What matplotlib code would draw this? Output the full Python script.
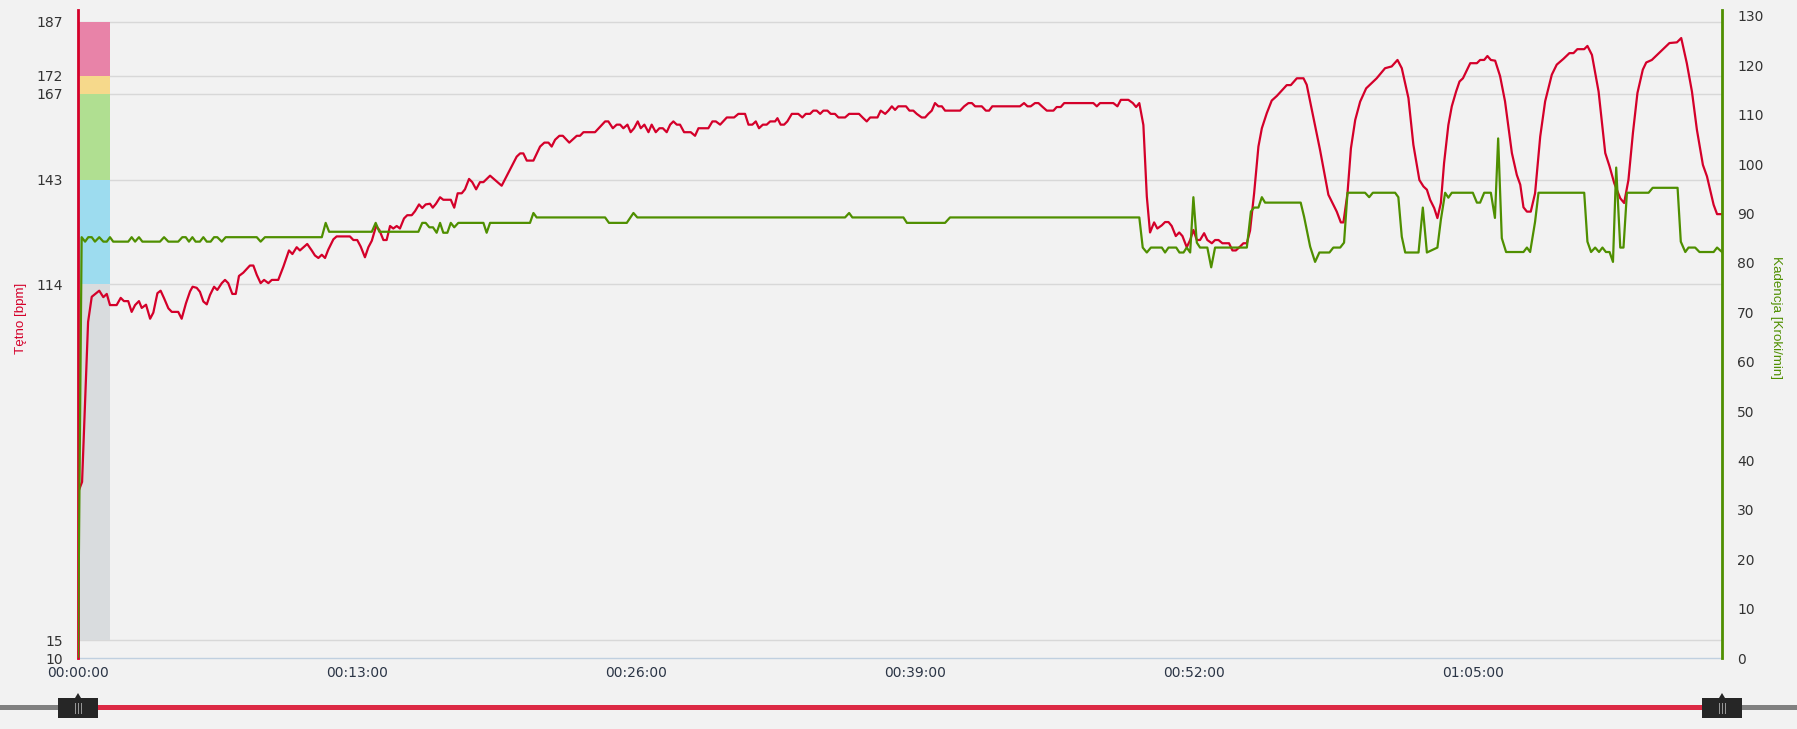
import matplotlib
matplotlib.use('Agg')
import matplotlib.pyplot as plt
from matplotlib.patches import Rectangle, Polygon

# Tętno (minuty, bpm)
hr_czas = [0.00, 0.19, 0.47, 0.64, 0.99, 1.18, 1.34, 1.49, 1.80, 1.99, 2.14, 2.34, 2.50, 2.66, 2.84, 2.97,
           3.17, 3.36, 3.51, 3.70, 3.85, 4.01, 4.21, 4.37, 4.67, 4.83, 5.03, 5.22, 5.34, 5.53, 5.68, 5.84,
           6.00, 6.15, 6.34, 6.49, 6.70, 6.85, 7.00, 7.19, 7.35, 7.50, 7.70, 8.01, 8.17, 8.33, 8.51, 8.67,
           8.87, 9.03, 9.33, 9.57, 9.83, 9.99, 10.19, 10.34, 10.68, 10.89, 11.04, 11.20, 11.36, 11.51, 11.66,
           11.90, 12.05, 12.67, 12.83, 13.01, 13.17, 13.37, 13.53, 13.69, 13.89, 14.04, 14.23, 14.38, 14.54,
           14.69, 14.85, 15.00, 15.19, 15.34, 15.55, 15.70, 15.89, 16.04, 16.20, 16.40, 16.53, 16.68, 16.87,
           17.02, 17.37, 17.53, 17.69, 17.88, 18.03, 18.22, 18.37, 18.55, 18.73, 18.89, 19.20, 19.74, 20.44,
           20.60, 20.75, 20.91, 21.22, 21.53, 21.73, 21.92, 22.07, 22.23, 22.43, 22.59, 22.89, 23.24, 23.39,
           23.55, 24.09, 24.56, 24.71, 24.92, 25.10, 25.26, 25.41, 25.60, 25.75, 25.91, 26.08, 26.22, 26.39,
           26.58, 26.73, 26.92, 27.09, 27.25, 27.43, 27.59, 27.74, 27.90, 28.05, 28.24, 28.55, 28.75, 28.91,
           29.37, 29.56, 29.72, 29.92, 30.23, 30.57, 30.77, 31.08, 31.24, 31.42, 31.58, 31.73, 31.91, 32.09,
           32.25, 32.48, 32.59, 32.74, 32.90, 33.05, 33.26, 33.56, 33.75, 33.91, 34.11, 34.26, 34.42, 34.58,
           34.73, 34.92, 35.07, 35.27, 35.43, 35.74, 35.93, 36.39, 36.59, 36.75, 36.91, 37.25, 37.40, 37.61,
           37.76, 37.92, 38.07, 38.22, 38.58, 38.74, 38.92, 39.08, 39.31, 39.47, 39.62, 39.78, 39.93, 40.09,
           40.25, 40.40, 41.10, 41.29, 41.49, 41.65, 41.80, 42.11, 42.30, 42.45, 42.60, 43.89, 44.08, 44.24,
           44.39, 44.59, 44.75, 44.95, 45.14, 45.45, 45.60, 45.79, 45.95, 47.31, 47.47, 47.62, 48.24, 48.43,
           48.59, 48.94, 49.15, 49.30, 49.45, 49.64, 49.80, 49.95, 50.14, 50.29, 50.50, 50.65, 50.81, 50.96,
           51.15, 51.31, 51.46, 51.66, 51.82, 51.97, 52.13, 52.28, 52.47, 52.62, 52.83, 52.98, 53.14, 53.32,
           53.63, 53.79, 53.95, 54.15, 54.30, 54.46, 54.61, 54.80, 55.00, 55.16, 55.39, 55.62, 55.86, 56.32,
           56.51, 56.79, 57.10, 57.25, 57.49, 57.87, 58.26, 58.65, 58.84, 58.96, 59.15, 59.31, 59.51, 59.74,
           60.02, 60.51, 60.90, 61.21, 61.48, 61.68, 61.99, 62.22, 62.50, 62.69, 62.85, 63.00, 63.19, 63.34,
           63.50, 63.65, 63.85, 64.01, 64.21, 64.37, 64.53, 64.87, 65.18, 65.33, 65.52, 65.67, 65.83, 66.03,
           66.26, 66.49, 66.81, 67.04, 67.20, 67.35, 67.51, 67.69, 67.89, 68.13, 68.36, 68.67, 68.90, 69.21,
           69.49, 69.68, 69.86, 70.18, 70.33, 70.54, 70.85, 71.16, 71.36, 71.58, 71.86, 72.04, 72.24, 72.45,
           72.66, 72.91, 73.07, 73.33, 74.15, 74.50, 74.70, 74.96, 75.20, 75.43, 75.71, 75.90, 76.21, 76.37,
           76.60]
hr_bpm = [56, 59, 103.5, 110.5, 112.2, 110.4, 111.3, 108.2, 108.2, 110.2, 109.3, 109.3, 106.3, 108.2, 109.3, 107.4,
          108.3, 104.4, 106.1, 111.5, 112.2, 110.1, 107.3, 106.3, 106.3, 104.4, 108.7, 112, 113.3, 113, 111.9, 109.2,
          108.4, 111, 113.3, 112.4, 114.3, 115.2, 114.3, 111.3, 111.3, 116.3, 117.2, 119.2, 119.2, 116.6, 114.3, 115.2,
          114.3, 115.2, 115.2, 118.9, 123.4, 122.4, 124.3, 123.4, 125.2, 123.4, 122, 121.3, 122.2, 121.3, 123.6,
          126.5, 127.3, 127.3, 126.3, 126.3, 124.5, 121.5, 124.3, 126.1, 130.2, 129.1, 126.3, 126.3, 130.2,
          129.5, 130.2, 129.5, 132.3, 133.2, 133.2, 134.3, 136.2, 135.2, 136.2, 136.4, 135.3, 136.4, 138.2,
          137.5, 137.5, 135.3, 139.3, 139.3, 140.4, 143.3, 142.4, 140.4, 142.4, 142.4, 144.2, 141.4, 149.5,
          150.4, 150.4, 148.4, 148.4, 152.3, 153.4, 153.4, 152.3, 154.2, 155.3, 155.3, 153.4, 155.3, 155.3,
          156.3, 156.3, 159.3, 159.3, 157.4, 158.4, 158.4, 157.4, 158.4, 156.3, 157.4, 159.3, 157.4, 158.4,
          156.3, 158.4, 156.3, 157.4, 157.4, 156.3, 158.4, 159.3, 158.4, 158.4, 156.3, 156.3, 155.3, 157.4,
          157.4, 159.3, 159.3, 158.4, 160.4, 160.4, 161.4, 161.4, 158.4, 158.4, 159.3, 157.4, 158.4, 158.4,
          159.3, 159.3, 160.2, 158.4, 158.4, 159.3, 161.4, 161.4, 160.4, 161.4, 161.4, 162.3, 162.3, 161.4,
          162.3, 162.3, 161.4, 161.4, 160.4, 160.4, 161.4, 161.4, 160.2, 159.3, 160.4, 160.4, 162.3, 161.4,
          162.3, 163.5, 162.5, 163.5, 163.5, 162.3, 162.3, 161.4, 160.4, 160.4, 161.4, 162.3, 164.4, 163.5,
          163.5, 162.3, 162.3, 163.5, 164.4, 164.4, 163.5, 163.5, 162.3, 162.3, 163.5, 163.5, 164.4, 163.5,
          163.5, 164.4, 164.4, 163.3, 162.3, 162.3, 163.3, 163.3, 164.4, 164.4, 163.5, 164.4, 164.4, 163.5,
          165.3, 165.3, 164.4, 163.3, 164.4, 158.3, 138.4, 128.4, 131.2, 129.5, 130.4, 131.3, 131.3, 130.2,
          127.4, 128.4, 127.4, 124.3, 126.3, 129.1, 126.3, 126.3, 128.2, 126.3, 125.4, 126.3, 126.3, 125.4,
          125.4, 123.4, 123.4, 124.5, 125.4, 125.4, 128.9, 139.3, 152.3, 157.4, 161.6, 165.1, 166.4, 169.4,
          169.4, 171.3, 171.3, 169.5, 162.5, 151.4, 138.9, 134.2, 131.2, 131.2, 139.3, 151.8, 159.7, 164.8,
          168.5, 171.3, 174.1, 174.6, 176.4, 174.1, 165.8, 152.8, 143.0, 141.2, 140.3, 137.5, 135.2, 132.4,
          136.6, 147.7, 158.3, 163.5, 167.6, 170.4, 171.3, 175.5, 175.5, 176.4, 176.4, 177.5, 176.4, 176.2,
          171.9, 164.9, 150.5, 144.4, 141.7, 135.4, 134.2, 134.2, 139.3, 155.1, 164.9, 172.3, 175.1, 176.7,
          178.3, 178.3, 179.4, 179.4, 180.3, 177.8, 167.6, 150.5, 146.8, 142.1, 137.9, 136.6, 143.0, 156.1,
          167.2, 173.7, 175.7, 176.4, 181.1, 181.3, 182.5, 175.5, 167.6, 157.0, 147.2, 144.0, 136.1, 133.5,
          133.5]

# Kadencja (minuty, kroki/min)
kad_czas = [0.00, 0.17, 0.33, 0.48, 0.64, 0.79, 0.99, 1.18, 1.34, 1.49, 1.64, 2.34, 2.50, 2.66, 2.84, 3.00,
            3.82, 4.01, 4.21, 4.67, 4.86, 5.02, 5.17, 5.33, 5.48, 5.68, 5.84, 6.00, 6.18, 6.34, 6.49, 6.70,
            6.88, 8.33, 8.51, 8.71, 11.36, 11.54, 11.70, 13.69, 13.87, 14.04, 15.86, 16.04, 16.20, 16.37,
            16.54, 16.71, 16.87, 17.02, 17.21, 17.37, 17.53, 17.72, 18.89, 19.04, 19.20, 21.06, 21.22, 21.37,
            24.56, 24.74, 25.57, 25.88, 26.06, 35.74, 35.93, 36.08, 38.46, 38.62, 40.40, 40.63, 49.45, 49.61,
            49.80, 49.99, 50.50, 50.65, 50.81, 51.17, 51.32, 51.51, 51.66, 51.82, 51.97, 52.13, 52.28, 52.62,
            52.80, 52.98, 54.46, 54.65, 54.80, 55.00, 55.16, 55.31, 56.97, 57.13, 57.41, 57.64, 57.84, 58.31,
            58.49, 58.81, 58.99, 59.15, 59.97, 60.16, 60.33, 61.37, 61.52, 61.68, 61.84, 62.46, 62.66, 62.85,
            63.34, 63.50, 63.70, 63.85, 64.01, 64.99, 65.18, 65.33, 65.52, 65.83, 66.02, 66.17, 66.34, 66.54,
            67.35, 67.51, 67.66, 67.89, 68.05, 70.18, 70.33, 70.50, 70.69, 70.87, 71.03, 71.19, 71.36, 71.52,
            71.67, 71.86, 72.01, 72.17, 73.18, 73.37, 74.53, 74.68, 74.89, 75.04, 75.35, 75.55, 76.21, 76.37,
            76.60]
kad_spm = [0, 85.2, 84.3, 85.2, 85.2, 84.3, 85.2, 84.3, 84.3, 85.2, 84.3, 84.3, 85.2, 84.3, 85.2, 84.3,
           84.3, 85.2, 84.3, 84.3, 85.2, 85.2, 84.3, 85.2, 84.3, 84.3, 85.2, 84.3, 84.3, 85.2, 85.2, 84.3,
           85.2, 85.2, 84.3, 85.2, 85.2, 88.1, 86.3, 86.3, 88.1, 86.3, 86.3, 88.1, 88.1, 87.2,
           87.2, 86.1, 88.1, 86.1, 86.1, 88.1, 87.2, 88.1, 88.1, 86.1, 88.1, 88.1, 90.1, 89.2,
           89.2, 88.1, 88.1, 90.1, 89.2, 89.2, 90.1, 89.2, 89.2, 88.1, 88.1, 89.2, 89.2, 83.1,
           82.1, 83.1, 83.1, 82.1, 83.1, 83.1, 82.1, 82.1, 83.1, 82.1, 93.3, 84.1, 83.1, 83.1,
           79.1, 83.1, 83.1, 90.4, 91.2, 91.2, 93.3, 92.2, 92.2, 89.3, 83.3, 80.2, 82.1, 82.1,
           83.1, 83.1, 84.1, 94.2, 94.2, 93.3, 94.2, 94.2, 93.3, 85.3, 82.1, 82.1, 91.2, 82.1,
           83.1, 88.7, 94.2, 93.2, 94.2, 94.2, 92.2, 92.2, 94.2, 94.2, 89.1, 105.2, 85.0, 82.2,
           82.2, 83.1, 82.2, 88.3, 94.2, 94.2, 84.3, 82.2, 83.1, 82.2, 83.1, 82.2, 82.2, 80.2,
           99.3, 83.1, 83.1, 94.2, 94.2, 95.2, 95.2, 84.3, 82.2, 83.1, 83.1, 82.2, 82.2, 83.1,
           82.2]

# Strefy tętna
strefy_granice = [15, 114, 143, 167, 172, 187]
strefy_kolory = ['#d9dcde', '#9ddcef', '#b0df91', '#f6d98b', '#e883a8']
strefy_szerokosc = 1.49  # minuty

lewe_ticki = [10, 15, 114, 143, 167, 172, 187]
prawe_ticki = list(range(0, 140, 10))
x_ticki = [0, 13, 26, 39, 52, 65]
x_koniec = 76.6

czerwony = '#d4002a'
zielony = '#4f8f00'
tlo = '#f2f2f2'

W, H = 1797, 729
fig = plt.figure(figsize=(W / 100, H / 100), dpi=100, facecolor=tlo)
ax = fig.add_axes([78 / W, 1 - 658 / H, (1722 - 78) / W, (658 - 10) / H])
ax.set_facecolor(tlo)
ax2 = ax.twinx()

# strefy
for i, kolor in enumerate(strefy_kolory):
    ax.add_patch(Rectangle((0, strefy_granice[i]), strefy_szerokosc,
                           strefy_granice[i + 1] - strefy_granice[i],
                           facecolor=kolor, edgecolor='none', zorder=1))

ax.plot(hr_czas, hr_bpm, color=czerwony, lw=1.6, zorder=3, solid_joinstyle='round')
ax2.plot(kad_czas, kad_spm, color=zielony, lw=1.6, zorder=3, solid_joinstyle='round')

ax.set_xlim(0, x_koniec)
ax.set_ylim(10, 190.3)
ax2.set_ylim(0, 131.2)

ax.set_yticks(lewe_ticki)
ax.set_yticklabels([str(v) for v in lewe_ticki])
ax2.set_yticks(prawe_ticki)
ax.set_xticks(x_ticki)
ax.set_xticklabels(['%02d:%02d:00' % (m // 60, m % 60) for m in x_ticki])

ax.set_axisbelow(True)
for v in lewe_ticki[1:]:
    ax.axhline(v, color='#d8d8d8', lw=1, zorder=0.5)

for s in ['top']:
    ax.spines[s].set_visible(False)
    ax2.spines[s].set_visible(False)
ax.spines['right'].set_visible(False)
ax2.spines['left'].set_visible(False)
ax2.spines['bottom'].set_visible(False)
ax.spines['left'].set_color(czerwony)
ax.spines['left'].set_linewidth(2)
ax.spines['left'].set_zorder(5)
ax2.spines['right'].set_color(zielony)
ax2.spines['right'].set_linewidth(2)
ax.spines['bottom'].set_color('#c0d0e0')
ax.spines['bottom'].set_linewidth(1)

ax.tick_params(axis='y', length=0, pad=11, labelsize=10, labelcolor='#333333')
ax2.tick_params(axis='y', length=0, pad=11, labelsize=10, labelcolor='#333333')
ax.tick_params(axis='x', length=0, pad=6, labelsize=10, labelcolor='#2b3546')

tytul_font = ['Liberation Sans Narrow', 'Liberation Sans', 'DejaVu Sans']
fig.text(21 / W, 1 - 318 / H, 'Tętno [bpm]', color=czerwony, rotation=90,
         ha='center', va='center', fontsize=9.6, family=tytul_font)
fig.text(1776 / W, 1 - 317 / H, 'Kadencja [Kroki/min]', color=zielony, rotation=270,
         ha='center', va='center', fontsize=9.6, family=tytul_font)

# nawigator u dołu
nav = fig.add_axes([78 / W, 0, (1722 - 78) / W, 39 / H])
nav.set_xlim(0, x_koniec)
nav.set_ylim(0, 1)
nav.axis('off')
px = x_koniec / (1722 - 78)  # minuty na piksel
ly = (729 - 707) / 39
nav.plot([-100 * px, 0], [ly, ly], color='#808080', lw=3.6, clip_on=False, solid_capstyle='butt')
nav.plot([x_koniec, x_koniec + 100 * px], [ly, ly], color='#808080', lw=3.6, clip_on=False, solid_capstyle='butt')
nav.plot([0, x_koniec], [ly, ly], color='#dc2a45', lw=3.6, clip_on=False, solid_capstyle='butt')
for xc in [0, x_koniec]:
    nav.add_patch(Rectangle((xc - 20 * px, (729 - 718) / 39), 40 * px, 20 / 39,
                            facecolor='#262626', edgecolor='none', clip_on=False, zorder=4))
    nav.add_patch(Polygon([[xc - 3 * px, (729 - 698) / 39], [xc + 3 * px, (729 - 698) / 39],
                           [xc, (729 - 693) / 39]], closed=True, facecolor='#262626',
                          edgecolor='none', clip_on=False, zorder=4))
    for d in [-3, 0, 3]:
        nav.plot([xc + d * px, xc + d * px], [(729 - 713) / 39, (729 - 703) / 39],
                 color='#9a9a9a', lw=0.7, clip_on=False, zorder=5)

fig.savefig('out.png', dpi=100, facecolor=tlo)
